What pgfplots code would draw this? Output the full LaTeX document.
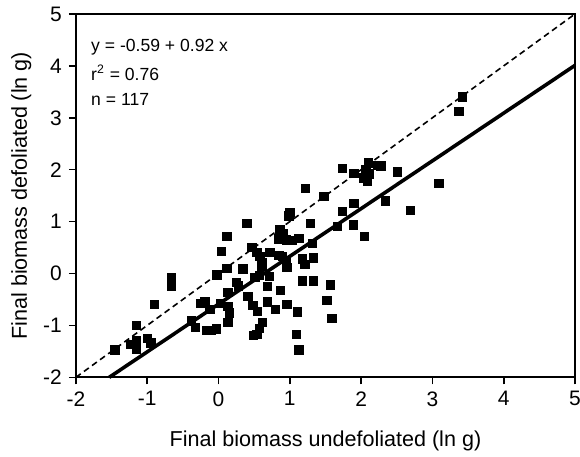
\documentclass[border=0pt]{standalone}
\usepackage{fontspec}
\setmainfont{Liberation Sans}
\usepackage{pgfplots}
\usepackage{pgfplotstable}
\pgfplotsset{compat=1.18}

% final biomass (ln g): undefoliated vs defoliated
\pgfplotstableread{
x y
-1.45 -1.47
-1.23 -1.36
-1.15 -1.30
-1.15 -1.46
-1.15 -1.00
-1.00 -1.25
-0.95 -1.34
-0.90 -0.59
-0.66 -0.08
-0.66 -0.24
-0.38 -0.91
-0.32 -1.04
-0.25 -0.57
-0.19 -0.54
-0.17 -1.09
-0.10 -1.09
-0.03 -1.07
-0.12 -0.69
0.03 -0.58
0.13 -0.63
0.15 -0.76
0.13 -0.94
-0.02 -0.03
0.04 0.43
0.12 0.72
0.12 0.10
0.13 -0.36
0.25 -0.17
0.28 -0.24
0.34 0.09
0.40 0.97
0.41 -0.44
0.47 0.50
0.48 -0.61
0.55 -0.73
0.54 0.41
0.58 0.33
0.61 0.22
0.61 0.15
0.57 -0.04
0.51 -0.08
0.71 -0.05
0.72 0.41
0.69 -0.25
0.69 -0.55
0.80 -0.69
0.62 -0.94
0.57 -1.06
0.54 -1.17
0.49 -1.19
0.87 -0.33
0.96 -0.60
1.11 -0.74
1.09 -1.17
1.13 -1.47
0.85 0.35
0.90 0.33
0.95 0.22
0.96 0.12
1.18 0.28
1.21 0.18
1.33 0.30
1.18 -0.14
1.33 -0.14
1.57 -0.22
1.52 -0.52
1.59 -0.87
0.86 0.84
0.91 0.77
0.84 0.67
0.95 0.65
1.03 0.64
1.13 0.68
1.32 0.58
1.29 0.97
1.00 1.18
0.99 1.11
1.22 1.64
1.48 1.48
1.67 0.91
1.89 0.94
2.05 0.72
1.74 1.20
1.90 1.35
1.74 2.02
1.90 1.93
2.10 2.13
2.07 2.00
2.11 1.92
2.03 1.84
2.09 1.77
2.23 2.08
2.28 2.07
2.51 1.96
3.09 1.74
2.34 1.40
2.69 1.22
3.37 3.12
3.42 3.40
}\biomass

\begin{document}
\begin{tikzpicture}
\begin{axis}[
    scale only axis,
    width=250pt, height=182pt,
    xmin=-2, xmax=5, ymin=-2, ymax=5,
    xtick={-2,...,5}, ytick={-2,...,5},
    xticklabels={-2,-1,0,1,2,3,4,5},
    yticklabels={-2,-1,0,1,2,3,4,5},
    tick align=outside, tick pos=left,
    major tick length=3.5pt,
    axis line style={line width=1pt},
    every tick/.style={black, line width=0.8pt},
    ticklabel style={font=\fontsize{10.5}{12}\selectfont},
    xlabel={Final biomass undefoliated (ln g)},
    ylabel={Final biomass defoliated (ln g)},
    label style={font=\fontsize{10.8}{13}\selectfont},
    xlabel style={at={(axis description cs:0.5,-0.19)}, anchor=base},
    ylabel style={at={(axis description cs:-0.098,0.5)}, anchor=base},
    clip=false,
]
\addplot[black, line width=0.8pt, dash pattern=on 3pt off 2pt] coordinates {(-2,-2) (5,5)};
\addplot[black, line width=1.8pt] coordinates {(-1.533,-2) (5,4.01)};
\addplot[only marks, mark=square*, mark size=2.1pt, black] table {\biomass};

\node[anchor=base west, inner sep=0, font=\fontsize{8.8}{10}\selectfont] at (axis cs:-1.79,4.27) {y = -0.59 + 0.92 x};
\node[anchor=base west, inner sep=0, font=\fontsize{8.8}{10}\selectfont] at (axis cs:-1.79,3.71) {r\textsuperscript{2} = 0.76};
\node[anchor=base west, inner sep=0, font=\fontsize{8.8}{10}\selectfont] at (axis cs:-1.79,3.23) {n = 117};

\coordinate (bl) at (rel axis cs:0,0);
\coordinate (tr) at (rel axis cs:1,1);
\end{axis}
% crop to the reference's frame (the last tick label is cut at the right)
\pgfresetboundingbox
\path ([shift={(-38pt,-39.5pt)}]bl) rectangle ([shift={(2.5pt,7pt)}]tr);
\end{tikzpicture}
\end{document}
